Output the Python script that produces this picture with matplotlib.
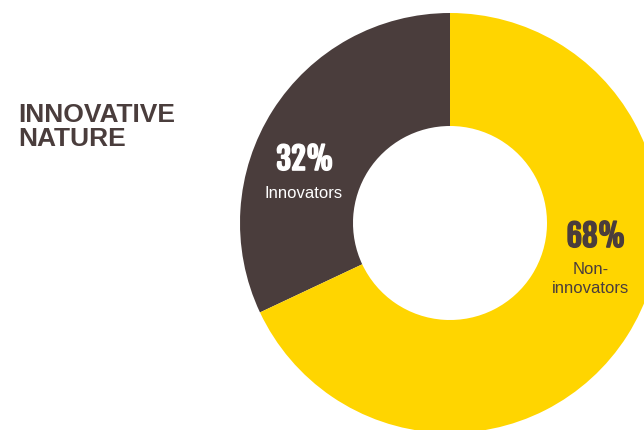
import matplotlib.pyplot as plt
import matplotlib.patheffects as pe

# Data
labels = ['Innovators', 'Non-\ninnovators']
shares = [32, 68]
colors = ['#4a3d3c', '#ffd500']
text_colors = ['white', '#4a3d3c']
title = 'INNOVATIVE\nNATURE'

fig = plt.figure(figsize=(6.44, 4.30), dpi=100)
ax = fig.add_axes([0, 0, 1, 1])

# donut in pixel coordinates (y up)
cx, cy, r = 450, 207, 210
ax.pie(shares, colors=colors, startangle=90, counterclock=True,
       center=(cx, cy), radius=r, wedgeprops=dict(width=113, linewidth=0),
       frame=True)
ax.set_xlim(0, 644)
ax.set_ylim(0, 430)
ax.set_aspect('equal')
ax.axis('off')

# title
ax.text(18, 303, title, ha='left', va='center', fontsize=19, fontweight='bold',
        color='#4a3d3c', family='Liberation Sans', linespacing=0.98)

# labels
pct_pos = [(305, 270), (596, 193)]
lab_pos = [(304, 236), (591, 151)]
for i in range(len(shares)):
    ax.text(*pct_pos[i], f'{shares[i]}%', ha='center', va='center', fontsize=22,
            family='Fjalla One', color=text_colors[i],
            path_effects=[pe.withStroke(linewidth=1.2, foreground=text_colors[i])])
    ax.text(*lab_pos[i], labels[i], ha='center', va='center', fontsize=12,
            family='Liberation Sans', color=text_colors[i], linespacing=1.35)

fig.savefig('out.png', dpi=100)
